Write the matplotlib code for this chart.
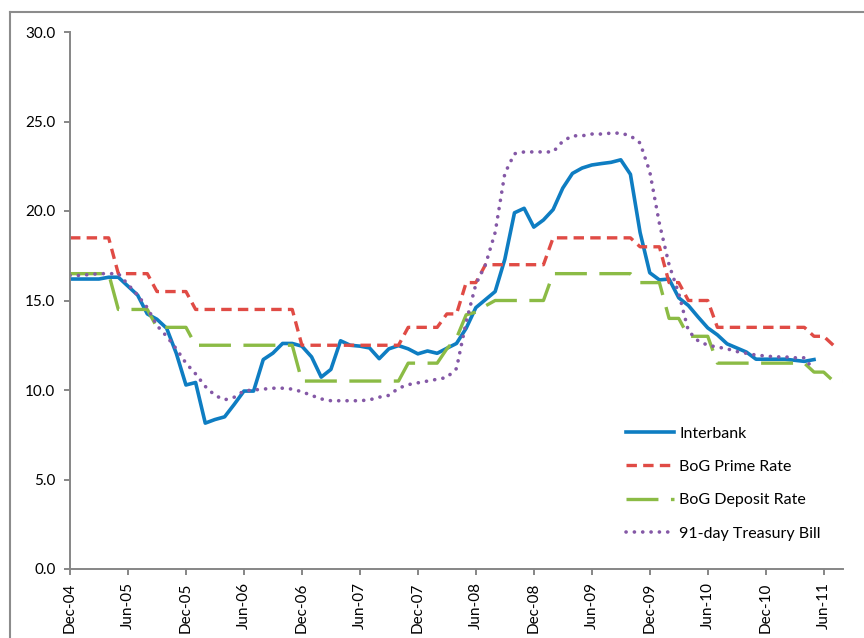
import matplotlib
matplotlib.use("Agg")
import matplotlib.pyplot as plt
from matplotlib.lines import Line2D

# monthly observations, Dec-04 .. Aug-11
months = ["Dec-04", "Jan-05", "Feb-05", "Mar-05", "Apr-05", "May-05", "Jun-05", "Jul-05", "Aug-05",
          "Sep-05", "Oct-05", "Nov-05", "Dec-05", "Jan-06", "Feb-06", "Mar-06", "Apr-06", "May-06",
          "Jun-06", "Jul-06", "Aug-06", "Sep-06", "Oct-06", "Nov-06", "Dec-06", "Jan-07", "Feb-07",
          "Mar-07", "Apr-07", "May-07", "Jun-07", "Jul-07", "Aug-07", "Sep-07", "Oct-07", "Nov-07",
          "Dec-07", "Jan-08", "Feb-08", "Mar-08", "Apr-08", "May-08", "Jun-08", "Jul-08", "Aug-08",
          "Sep-08", "Oct-08", "Nov-08", "Dec-08", "Jan-09", "Feb-09", "Mar-09", "Apr-09", "May-09",
          "Jun-09", "Jul-09", "Aug-09", "Sep-09", "Oct-09", "Nov-09", "Dec-09", "Jan-10", "Feb-10",
          "Mar-10", "Apr-10", "May-10", "Jun-10", "Jul-10", "Aug-10", "Sep-10", "Oct-10", "Nov-10",
          "Dec-10", "Jan-11", "Feb-11", "Mar-11", "Apr-11", "May-11", "Jun-11", "Jul-11", "Aug-11"]

interbank = [16.2, 16.2, 16.2, 16.2, 16.3, 16.3, 15.8, 15.3, 14.25, 13.95, 13.45, 12.05,
             10.28, 10.42, 8.15, 8.35, 8.5, 9.2, 9.94, 9.94, 11.7, 12.06, 12.6, 12.6,
             12.45, 11.85, 10.72, 11.15, 12.75, 12.5, 12.45, 12.35, 11.75, 12.3, 12.48, 12.3,
             12.02, 12.18, 12.05, 12.33, 12.6, 13.45, 14.6, 15.05, 15.5, 17.3, 19.9, 20.15,
             19.1, 19.5, 20.08, 21.28, 22.1, 22.4, 22.57, 22.65, 22.72, 22.86, 22.05, 18.8,
             16.55, 16.15, 16.2, 15.15, 14.72, 14.08, 13.47, 13.08, 12.58, 12.35, 12.12, 11.72,
             11.72, 11.72, 11.72, 11.66, 11.6, 11.7]

prime_rate = [18.5, 18.5, 18.5, 18.5, 18.5, 16.5, 16.5, 16.5, 16.5, 15.5, 15.5, 15.5,
              15.5, 14.5, 14.5, 14.5, 14.5, 14.5, 14.5, 14.5, 14.5, 14.5, 14.5, 14.5,
              12.5, 12.5, 12.5, 12.5, 12.5, 12.5, 12.5, 12.5, 12.5, 12.5, 12.5, 13.5,
              13.5, 13.5, 13.5, 14.25, 14.25, 16.0, 16.0, 17.0, 17.0, 17.0, 17.0, 17.0,
              17.0, 17.0, 18.5, 18.5, 18.5, 18.5, 18.5, 18.5, 18.5, 18.5, 18.5, 18.0,
              18.0, 18.0, 16.0, 16.0, 15.0, 15.0, 15.0, 13.5, 13.5, 13.5, 13.5, 13.5,
              13.5, 13.5, 13.5, 13.5, 13.5, 13.0, 13.0, 12.5]

deposit_rate = [16.5, 16.5, 16.5, 16.5, 16.5, 14.5, 14.5, 14.5, 14.5, 13.5, 13.5, 13.5,
                13.5, 12.5, 12.5, 12.5, 12.5, 12.5, 12.5, 12.5, 12.5, 12.5, 12.5, 12.5,
                10.5, 10.5, 10.5, 10.5, 10.5, 10.5, 10.5, 10.5, 10.5, 10.5, 10.5, 11.5,
                11.5, 11.5, 11.5, 12.3, 12.9, 14.2, 14.35, 14.7, 15.0, 15.0, 15.0, 15.0,
                15.0, 15.0, 16.5, 16.5, 16.5, 16.5, 16.5, 16.5, 16.5, 16.5, 16.5, 16.0,
                16.0, 16.0, 14.0, 14.0, 13.0, 13.0, 13.0, 11.5, 11.5, 11.5, 11.5, 11.5,
                11.5, 11.5, 11.5, 11.5, 11.5, 11.0, 11.0, 10.5, 10.5]

tbill_91 = [16.4, 16.4, 16.45, 16.5, 16.5, 16.5, 15.9, 15.3, 14.6, 13.6, 13.0, 12.3,
            11.5, 10.9, 10.2, 9.7, 9.45, 9.6, 9.95, 10.0, 10.05, 10.1, 10.1, 10.05,
            9.9, 9.7, 9.5, 9.4, 9.4, 9.4, 9.4, 9.45, 9.6, 9.7, 10.1, 10.3,
            10.4, 10.5, 10.6, 10.7, 11.2, 13.8, 15.9, 17.0, 18.8, 22.1, 23.2, 23.3,
            23.3, 23.3, 23.3, 23.9, 24.2, 24.2, 24.3, 24.3, 24.35, 24.35, 24.2, 23.8,
            22.2, 19.3, 17.0, 15.4, 13.3, 12.75, 12.5, 12.4, 12.3, 12.15, 12.05, 11.95,
            11.9, 11.85, 11.85, 11.8, 11.8, 11.1]

plt.rcParams['font.family'] = ['Lato', 'DejaVu Sans']
plt.rcParams['lines.scale_dashes'] = False

fig = plt.figure(figsize=(8.64, 6.38), dpi=100)
ax = fig.add_axes([70 / 864, 1 - 569 / 638, (843 - 70) / 864, (569 - 32) / 638])

ax.plot(range(len(interbank)), interbank, color='#0E7DC2', lw=2.6,
        solid_joinstyle='round', label='Interbank')
ax.plot(range(len(prime_rate)), prime_rate, color='#E04B45', lw=2.4,
        linestyle=(0, (7.5, 4.5)), label='BoG Prime Rate')
ax.plot(range(len(deposit_rate)), deposit_rate, color='#8BBB45', lw=2.4,
        linestyle=(0, (23, 9)), label='BoG Deposit Rate')
ax.plot(range(len(tbill_91)), tbill_91, color='#8458A6', lw=2.6,
        linestyle=(0, (0.1, 5.9)), dash_capstyle='round', label='91-day Treasury Bill')

ax.set_xlim(0, len(months) - 1)
ax.set_ylim(0, 30)
tick_pos = list(range(0, len(months), 6))
ax.set_xticks(tick_pos)
ax.set_xticklabels([months[i] for i in tick_pos], rotation=90, fontsize=11)
ax.set_yticks([0, 5, 10, 15, 20, 25, 30])
ax.set_yticklabels([f"{v:.1f}" for v in [0, 5, 10, 15, 20, 25, 30]], fontsize=11)

for side in ['top', 'right']:
    ax.spines[side].set_visible(False)
for side in ['left', 'bottom']:
    ax.spines[side].set_color('#868686')
    ax.spines[side].set_linewidth(1.4)
ax.tick_params(axis='both', direction='out', color='#868686', width=1.4, length=4.5)
ax.tick_params(axis='y', pad=6)
ax.tick_params(axis='x', pad=5)

leg = ax.legend(loc='upper left', bbox_to_anchor=(612 / 864, 1 - 412 / 638),
                bbox_transform=fig.transFigure, frameon=False, fontsize=11.5,
                handlelength=3.0, handletextpad=0.3, labelspacing=1.2)

# chart area border
fig.add_artist(Line2D([10 / 864, 1.0], [1 - 12 / 638, 1 - 12 / 638], color='#8C8C8C', lw=1.5))
fig.add_artist(Line2D([10 / 864, 10 / 864], [0.0, 1 - 12 / 638], color='#8C8C8C', lw=1.5))

fig.savefig('out.png', dpi=100)
